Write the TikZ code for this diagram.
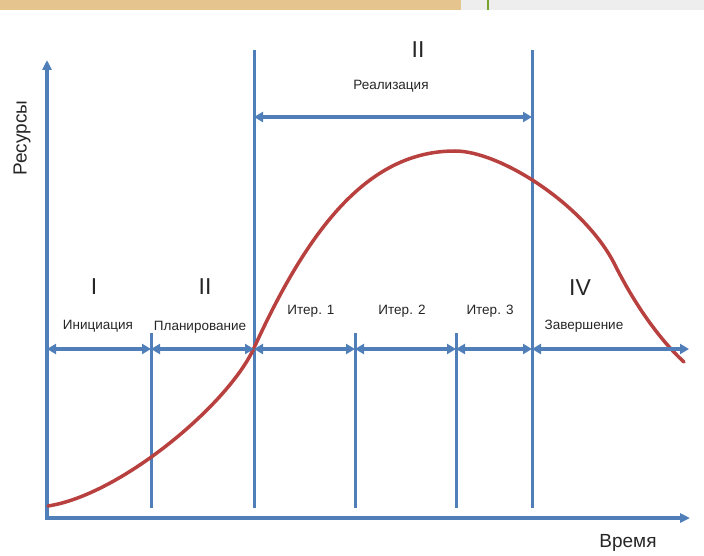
\documentclass[tikz,border=0pt]{standalone}
\usepackage{fontspec}
\setmainfont{Liberation Sans}
\usetikzlibrary{arrows.meta,calc,positioning}
\definecolor{lineblue}{HTML}{4F7EB9}
\definecolor{curvered}{HTML}{B8413F}
\definecolor{txtgray}{HTML}{262626}
\definecolor{stripbeige}{HTML}{E6C48E}
\definecolor{stripgray}{HTML}{EEEEEE}
\definecolor{stripgreen}{HTML}{7AA32C}
\tikzset{
  axis/.style   = {-{Triangle[length=10pt,width=9pt]}, line width=4pt, lineblue},
  span/.style   = {{Triangle[length=9pt,width=10pt]}-{Triangle[length=9pt,width=10pt]},
                   line width=3.5pt, lineblue},
  divline/.style= {line width=3pt, lineblue},
  phase/.style  = {font=\fontsize{23}{25}\selectfont, text=txtgray},
  lbl/.style    = {font=\fontsize{13.5}{15}\selectfont, text=txtgray},
  axlbl/.style  = {font=\fontsize{19}{22}\selectfont, text=txtgray},
}

\begin{document}
\begin{tikzpicture}[x=1pt,y=-1pt]
  \useasboundingbox (0,0) rectangle (704,556);
  % top strip
  \fill[stripbeige] (0,0) rectangle (461,10);
  \fill[stripgray] (461,0) rectangle (704,10);
  \draw[line width=2pt,stripgreen] (488,0) -- (488,10);

  % axes
  \coordinate (O) at (47,518);
  \coordinate (ytip) at (47,60);
  \coordinate (xtip) at (690,518);
  \draw[axis] (O) -- (ytip);
  \draw[axis] ([xshift=-2pt]O) -- (xtip);
  \node[axlbl, rotate=90] (res) at (22,138) {Ресурсы};
  \node[axlbl] (time) at (628,543) {Время};

  % division lines
  \foreach \n/\x/\t in {a/151/333, b/254/50, c/355/333, d/456/333, e/532/50}
     {\coordinate (\n-top) at (\x,\t); \coordinate (\n-bot) at (\x,508);
      \coordinate (\n-mid) at (\x,349);
      \draw[divline] (\n-top) -- (\n-bot);}
  \coordinate (s-mid) at (47,349);
  \coordinate (f-mid) at (689,349);

  % resource curve
  \draw[curvered, line width=3.5pt, line cap=round]
    (48,506) .. controls (120,495) and (228,405) .. (254,348)
             .. controls (310,225) and (370,151) .. (455,151)
             .. controls (500,151) and (585,205) .. (615,265)
             .. controls (635,305) and (660,340) .. (684,362);

  % span arrows
  \foreach \p/\q in {s/a, a/b, b/c, c/d, d/e, e/f}
     \draw[span] (\p-mid) -- (\q-mid);
  \coordinate (b-arr) at (254,117);
  \coordinate (e-arr) at (532,117);
  \draw[span] (b-arr) -- (e-arr);

  % labels
  \node[phase] (ph2) at (418,50) {II};
  \node[lbl] (real) at (391,86) {Реализация};
  \node[phase] (ph1a) at (94,287) {I};
  \node[phase] (ph1b) at (205,287) {II};
  \node[phase] (ph4) at (580,288) {IV};
  \node[lbl] (init) at (98,326) {Инициация};
  \node[lbl] (plan) at (200,327) {Планирование};
  \node[lbl] (it1) at (311,311) {Итер. 1};
  \node[lbl] (it2) at (402,311) {Итер. 2};
  \node[lbl] (it3) at (490,311) {Итер. 3};
  \node[lbl] (fin) at (584,326) {Завершение};
\end{tikzpicture}
\end{document}
